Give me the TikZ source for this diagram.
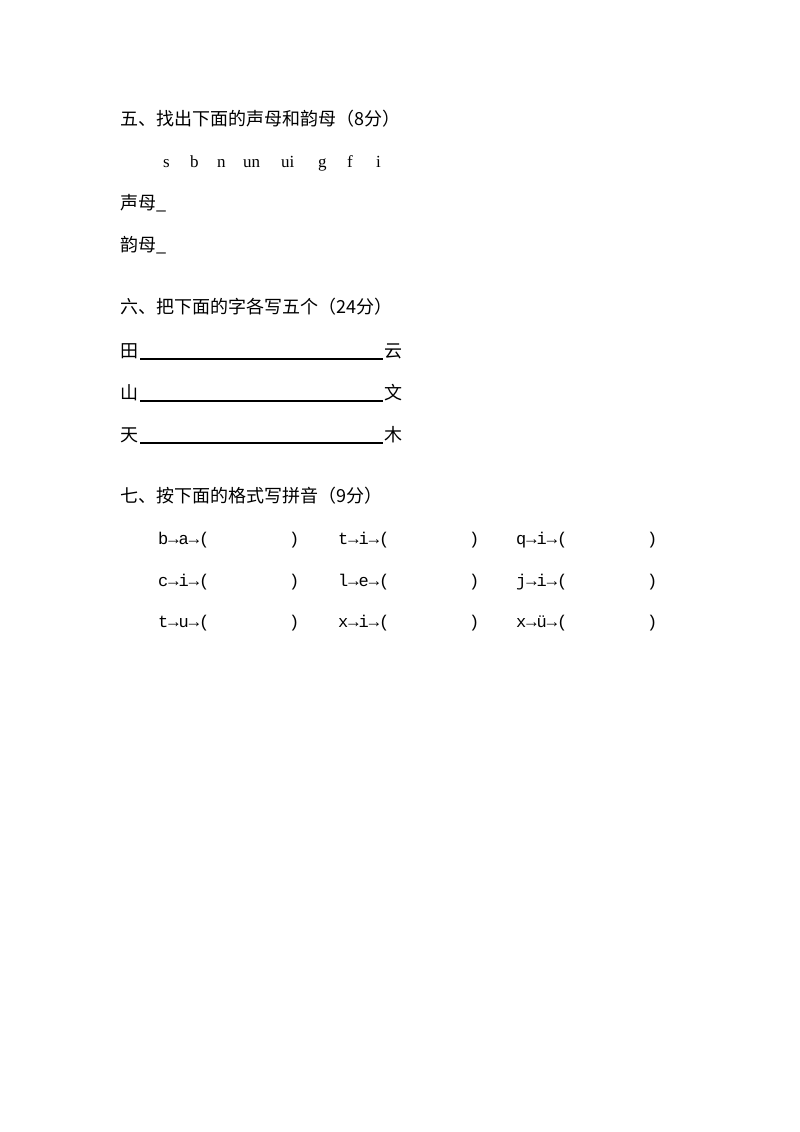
\documentclass[tikz,border=0pt]{standalone}
\usepackage{fontspec}
\setmainfont{Liberation Serif}
\newfontfamily\cjk{Noto Sans CJK SC}
\newfontfamily\lm{Liberation Mono}
\begin{document}
\begin{tikzpicture}[x=1pt,y=1pt,
  t/.style={anchor=west,inner sep=0pt,font=\cjk\fontsize{18}{18}\selectfont},
  p/.style={anchor=base west,inner sep=0pt,font=\fontsize{17}{17}\selectfont},
  m/.style={anchor=base west,inner sep=0pt,font=\lm\fontsize{17}{17}\selectfont}]
\useasboundingbox (0,0) rectangle (800,-1132);
\node[t] (h5) at (120,-119) {五、找出下面的声母和韵母（8分）};
\foreach \x/\s [count=\i] in {163/s,190/b,217/n,243/un,281/ui,318/g,347/f,376/i}
  \node[p] (l\i) at (\x,-167) {\s};
\node[t] (sm) at (120,-203) {声母\_};
\node[t] (ym) at (120,-245) {韵母\_};
\node[t] (h6) at (120,-307) {六、把下面的字各写五个（24分）};
\foreach \y/\a/\b [count=\i] in {351/田/云,393/山/文,435/天/木}{
  \node[t] (a\i) at (120,-\y) {\a};
  \node[t] (b\i) at (384,-\y) {\b};
  \draw[line width=1.2pt] (140,-\y-8) -- (383,-\y-8);
}
\node[t] (h7) at (120,-496) {七、按下面的格式写拼音（9分）};
\foreach \y/\A/\B/\C [count=\r] in {544/b→a→(/t→i→(/q→i→(,586/c→i→(/l→e→(/j→i→(,627/t→u→(/x→i→(/x→ü→(}{
  \node[m] (r\r a) at (158,-\y) {\A};
  \node[m] (r\r b) at (338,-\y) {\B};
  \node[m] (r\r c) at (516,-\y) {\C};
  \foreach \x in {289,469,647} \node[m] at (\x,-\y) {)};
}
\end{tikzpicture}
\end{document}
